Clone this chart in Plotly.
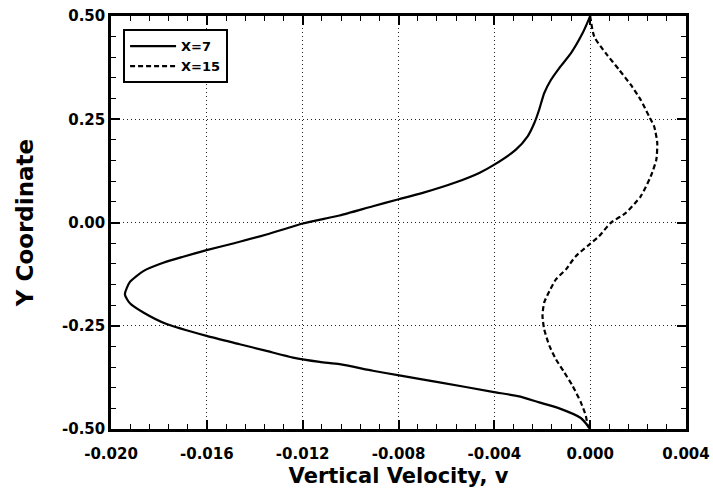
import plotly.graph_objects as go

# X=7 (solid)
v7 = [0.0, -0.00007, -0.00032, -0.0008, -0.00129, -0.00164, -0.00192, -0.00213, -0.00233,
      -0.00261, -0.0031, -0.004, -0.00463, -0.0056, -0.00699, -0.00803, -0.00907, -0.01046,
      -0.01199, -0.01351, -0.0149, -0.01601, -0.01699, -0.01782, -0.01865, -0.01921, -0.01942,
      -0.01921, -0.01865, -0.01768, -0.01601, -0.01463, -0.01351, -0.0124, -0.01129, -0.01046,
      -0.00907, -0.00803, -0.00629, -0.00407, -0.00296, -0.00213, -0.00129, -0.00039, -0.0001, 0.0]
y7 = [0.5, 0.490, 0.458, 0.41, 0.374, 0.345, 0.313, 0.273, 0.2408,
      0.2085, 0.1763, 0.140, 0.120, 0.0974, 0.0717, 0.0556, 0.0394, 0.0169,
      -0.0024, -0.029, -0.0507, -0.067, -0.0829, -0.0974, -0.1176, -0.144, -0.174,
      -0.1957, -0.218, -0.246, -0.2746, -0.2947, -0.311, -0.327, -0.3374, -0.343,
      -0.359, -0.3696, -0.387, -0.41, -0.421, -0.4355, -0.450, -0.4734, -0.492, -0.5]

# X=15 (dashed)
v15 = [0.0, 0.00017, 0.00065, 0.00121, 0.0017, 0.00211, 0.00246, 0.00267, 0.0028, 0.00276,
       0.00253, 0.00211, 0.00149, 0.00086, 0.000375, -0.00011, -0.0006, -0.00101, -0.00143,
       -0.0017, -0.00192, -0.00199, -0.00192, -0.0017, -0.00143, -0.00108, -0.00074, -0.00039,
       -0.00018, -0.0001, 0.0]
y15 = [0.5, 0.45, 0.41, 0.3696, 0.333, 0.297, 0.2568, 0.2326, 0.1925, 0.152,
       0.112, 0.0635, 0.0234, -0.0008, -0.033, -0.057, -0.0815, -0.1135, -0.1377,
       -0.166, -0.194, -0.226, -0.258, -0.2988, -0.331, -0.363, -0.395, -0.4355,
       -0.468, -0.492, -0.5]

x_ticks = [-0.020, -0.016, -0.012, -0.008, -0.004, 0.000, 0.004]
x_labels = ["-0.020", "-0.016", "-0.012", "-0.008", "-0.004", "0.000", "0.004"]
y_ticks = [-0.5, -0.25, 0.0, 0.25, 0.5]
y_labels = ["-0.50", "-0.25", "0.00", "0.25", "0.50"]

FONT = "DejaVu Sans"

fig = go.Figure()
fig.add_trace(go.Scatter(x=v7, y=y7, mode="lines", name="X=7", legendgroup="a",
                         line=dict(color="black", width=2.2, shape="spline", smoothing=0.6)))
fig.add_trace(go.Scatter(x=v15, y=y15, mode="lines", name="X=15", legendgroup="b",
                         line=dict(color="black", width=2.2, dash="5px,3px", shape="spline", smoothing=0.6)))

axis_common = dict(
    showline=True, linecolor="black", linewidth=2.5, mirror="ticks",
    ticks="inside", ticklen=9, tickwidth=1.5, tickcolor="black",
    showgrid=True, gridcolor="#222222", gridwidth=1, griddash="1px,3px",
    zeroline=False, automargin=False,
    tickfont=dict(family=FONT, size=15, color="black", weight="bold"),
)

fig.update_xaxes(range=[-0.020, 0.004], tickvals=x_ticks, ticktext=x_labels,
                 ticklabelstandoff=9,
                 minor=dict(dtick=0.0008, tick0=-0.020, ticks="inside", ticklen=5,
                            tickcolor="black", tickwidth=1.2, showgrid=False),
                 title=dict(text="Vertical Velocity, v", standoff=7,
                            font=dict(family=FONT, size=21, color="black", weight="bold")),
                 **axis_common)
fig.update_yaxes(range=[-0.5, 0.5], tickvals=y_ticks, ticktext=y_labels,
                 minor=dict(dtick=0.05, tick0=-0.5, ticks="inside", ticklen=5,
                            tickcolor="black", tickwidth=1.2, showgrid=False),
                 title=dict(text="Y Coordinate", standoff=22,
                            font=dict(family=FONT, size=23, color="black", weight="bold")),
                 **axis_common)

fig.update_layout(
    width=713, height=490,
    margin=dict(l=111, r=27, t=16, b=61),
    paper_bgcolor="white", plot_bgcolor="white",
    showlegend=True,
    legend=dict(x=0.021, y=0.968, xanchor="left", yanchor="top",
                bgcolor="white", bordercolor="black", borderwidth=2,
                font=dict(family=FONT, size=13, color="black", weight="bold"),
                tracegroupgap=0, itemwidth=46),
)

fig.write_html("out.html")
